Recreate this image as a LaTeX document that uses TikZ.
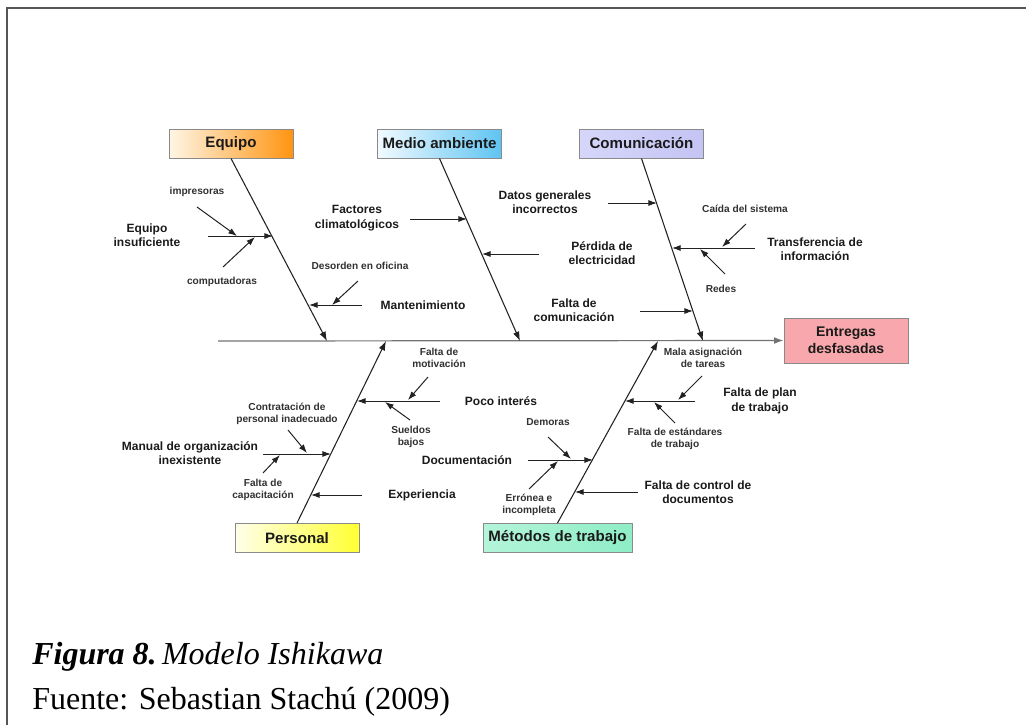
\documentclass[tikz,border=0pt]{standalone}
\usepackage{fontspec}
\setmainfont{Liberation Serif}
\setsansfont{Liberation Sans}
\usetikzlibrary{arrows.meta,calc}

\definecolor{frameGray}{HTML}{555555}
\definecolor{lineGray}{HTML}{222222}
\definecolor{boxEdge}{HTML}{8A8A8A}
\definecolor{orangeL}{HTML}{FFF6E6}
\definecolor{orangeR}{HTML}{FF9410}
\definecolor{blueL}{HTML}{F2FAFF}
\definecolor{blueR}{HTML}{5EC4F2}
\definecolor{lilacL}{HTML}{D6D6FA}
\definecolor{lilacR}{HTML}{C4C4F4}
\definecolor{yellowL}{HTML}{FFFFEA}
\definecolor{yellowR}{HTML}{FFFF33}
\definecolor{mintL}{HTML}{B4F4DA}
\definecolor{mintR}{HTML}{8EEEC6}
\definecolor{effectPink}{HTML}{F8A8AC}
\definecolor{txt}{HTML}{1A1A1A}

\begin{document}
\begin{tikzpicture}[x=0.75pt,y=-0.75pt,
  bone/.style={draw=lineGray, line width=0.8pt, -{Latex[length=7pt,width=5pt]}},
  twig/.style={draw=lineGray, line width=0.75pt, -{Latex[length=6.5pt,width=4.6pt]}},
  catbox/.style={draw=boxEdge, line width=0.7pt, inner sep=0pt,
    minimum width=93pt, minimum height=21.75pt, text=txt,
    font=\sffamily\bfseries\fontsize{11.3}{13}\selectfont},
  cause/.style={font=\sffamily\bfseries\fontsize{9}{10.8}\selectfont,
    align=center, text=txt, inner sep=0pt},
  detail/.style={font=\sffamily\bfseries\fontsize{7.6}{9.2}\selectfont,
    align=center, text=txt!90, inner sep=0pt},
]
\useasboundingbox (0,0) rectangle (1026,725);

% page frame (top and left edges)
\coordinate (fTL) at (7,8);
\coordinate (fTR) at (1026,8);
\coordinate (fBL) at (7,725);
\draw[frameGray, line width=1.5pt] (fBL) -- (fTL) -- (fTR);

% effect box and spine
\node[catbox, minimum width=93pt, minimum height=33.75pt, fill=effectPink,
  font=\sffamily\bfseries\fontsize{10.5}{12.5}\selectfont, align=center]
  (ent) at (846,340.5) {Entregas\\desfasadas};
\coordinate (sp0) at (218,341);
\draw[bone, draw=black!55, line width=0.9pt] (sp0) -- (ent.west);

% category boxes
\node[catbox, left color=orangeL, right color=orangeR] (eq) at (231,143.5) {Equipo};
\node[catbox, left color=blueL, right color=blueR] (med) at (439.5,143.5) {Medio ambiente};
\node[catbox, left color=lilacL, right color=lilacR] (com) at (641.5,143.5) {Comunicación};
\node[catbox, left color=yellowL, right color=yellowR] (per) at (297,538) {Personal};
\node[catbox, minimum width=111.75pt, left color=mintL, right color=mintR] (met) at (557.5,538) {Métodos de trabajo};

% main bones
\coordinate (eqS) at (327,341);
\coordinate (medS) at (520,341);
\coordinate (comS) at (703,341);
\coordinate (perS) at (386,341);
\coordinate (metS) at (658,341);
\draw[bone] (eq.south) -- (eqS);
\draw[bone] (med.south) -- (medS);
\draw[bone] (com.south) -- (comS);
\draw[bone] (per.north) -- (perS);
\draw[bone] (met.north) -- (metS);

% ---------- Equipo ----------
\node[cause] (eqIns) at (147,235) {Equipo\\insuficiente};
\node[detail] (imp) at (197,192) {impresoras};
\node[detail] (cmp) at (222,282) {computadoras};
\node[detail] (des) at (360,266) {Desorden en oficina};
\node[cause] (man) at (423,305) {Mantenimiento};
\coordinate (eqInsA) at (208,236);  \coordinate (eqInsB) at (273,236);
\coordinate (impA) at (197,207);    \coordinate (impB) at (237,236);
\coordinate (cmpA) at (223,267);    \coordinate (cmpB) at (255,237);
\coordinate (manA) at (362,305);    \coordinate (manB) at (309,305);
\coordinate (desA) at (358,281);    \coordinate (desB) at (332,305);
\draw[twig] (eqInsA) -- (eqInsB);
\draw[twig] (impA) -- (impB);
\draw[twig] (cmpA) -- (cmpB);
\draw[twig] (manA) -- (manB);
\draw[twig] (desA) -- (desB);

% ---------- Medio ambiente ----------
\node[cause] (fac) at (357,218) {Factores\\climatológicos};
\node[cause] (per2) at (602,253) {Pérdida de\\electricidad};
\coordinate (facA) at (410,219);    \coordinate (facB) at (467,219);
\coordinate (pe2A) at (539,254);    \coordinate (pe2B) at (482,254);
\draw[twig] (facA) -- (facB);
\draw[twig] (pe2A) -- (pe2B);

% ---------- Comunicación ----------
\node[cause] (dat) at (545,202) {Datos generales\\incorrectos};
\node[cause] (tra) at (815,249) {Transferencia de\\información};
\node[detail] (cai) at (745,209) {Caída del sistema};
\node[detail] (red) at (721,289) {Redes};
\node[cause] (fco) at (574,310) {Falta de\\comunicación};
\coordinate (datA) at (608,203);    \coordinate (datB) at (657,203);
\coordinate (traA) at (755,248);    \coordinate (traB) at (672,248);
\coordinate (caiA) at (746,224);    \coordinate (caiB) at (722,247);
\coordinate (redA) at (725,274);    \coordinate (redB) at (700,249);
\coordinate (fcoA) at (640,311);    \coordinate (fcoB) at (693,311);
\draw[twig] (datA) -- (datB);
\draw[twig] (traA) -- (traB);
\draw[twig] (caiA) -- (caiB);
\draw[twig] (redA) -- (redB);
\draw[twig] (fcoA) -- (fcoB);

% ---------- Personal ----------
\node[cause] (poc) at (501,401) {Poco interés};
\node[detail] (mot) at (439,358) {Falta de\\motivación};
\node[detail] (sue) at (411,437) {Sueldos\\bajos};
\node[detail] (con) at (287,414) {Contratación de\\personal inadecuado};
\node[cause] (mnl) at (190,453) {Manual de organización\\inexistente};
\node[detail] (cap) at (263,490) {Falta de\\capacitación};
\node[cause] (exp) at (422,495) {Experiencia};
\coordinate (pocA) at (440,401);    \coordinate (pocB) at (357,401);
\coordinate (motA) at (428,377);    \coordinate (motB) at (408,400);
\coordinate (sueA) at (410,420);    \coordinate (sueB) at (385,402);
\coordinate (mnlA) at (263,454);    \coordinate (mnlB) at (331,454);
\coordinate (conA) at (288,430);    \coordinate (conB) at (307,453);
\coordinate (capA) at (263,473);    \coordinate (capB) at (280,455);
\coordinate (expA) at (362,495);    \coordinate (expB) at (311,495);
\draw[twig] (pocA) -- (pocB);
\draw[twig] (motA) -- (motB);
\draw[twig] (sueA) -- (sueB);
\draw[twig] (mnlA) -- (mnlB);
\draw[twig] (conA) -- (conB);
\draw[twig] (capA) -- (capB);
\draw[twig] (expA) -- (expB);

% ---------- Métodos de trabajo ----------
\node[cause] (pla) at (760,401) {Falta de plan\\de trabajo};
\node[detail] (mal) at (703,358) {Mala asignación\\de tareas};
\node[detail] (est) at (675,439) {Falta de estándares\\de trabajo};
\node[cause] (doc) at (467,460) {Documentación};
\node[detail] (dem) at (548,422) {Demoras};
\node[detail] (err) at (529,505) {Errónea e\\incompleta};
\node[cause] (ctl) at (698,492) {Falta de control de\\documentos};
\coordinate (plaA) at (695,401);    \coordinate (plaB) at (625,401);
\coordinate (malA) at (702,376);    \coordinate (malB) at (678,400);
\coordinate (estA) at (675,423);    \coordinate (estB) at (654,402);
\coordinate (docA) at (528,460);    \coordinate (docB) at (593,460);
\coordinate (demA) at (548,437);    \coordinate (demB) at (571,459);
\coordinate (errA) at (529,489);    \coordinate (errB) at (558,461);
\coordinate (ctlA) at (638,492);    \coordinate (ctlB) at (575,492);
\draw[twig] (plaA) -- (plaB);
\draw[twig] (malA) -- (malB);
\draw[twig] (estA) -- (estB);
\draw[twig] (docA) -- (docB);
\draw[twig] (demA) -- (demB);
\draw[twig] (errA) -- (errB);
\draw[twig] (ctlA) -- (ctlB);

% caption
\node[anchor=base west, inner sep=0pt, font=\fontsize{24}{28}\selectfont] (cap1) at (32,664)
  {\textbf{\textit{Figura 8.}}\,\textit{Modelo Ishikawa}};
\node[anchor=base west, inner sep=0pt, font=\fontsize{24}{28}\selectfont] (cap2) at (32,709)
  {Fuente: Sebastian Stachú (2009)};
\end{tikzpicture}
\end{document}
